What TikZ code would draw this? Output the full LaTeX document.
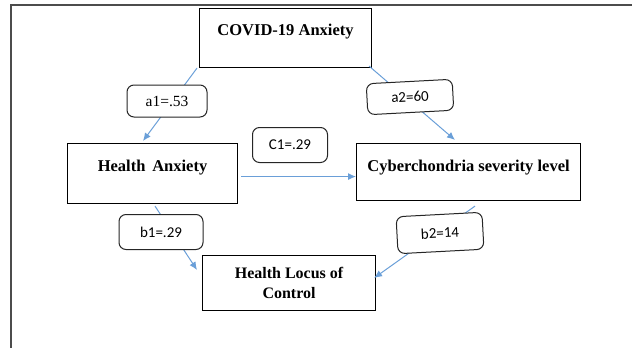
\documentclass[tikz,border=0pt]{standalone}
\usepackage{fontspec}
\setmainfont{Liberation Serif}
\newfontfamily\lblfont{Carlito}
\usepackage{tikz}
\usetikzlibrary{arrows.meta}
\definecolor{pathblue}{HTML}{6A9FD8}

\begin{document}
\begin{tikzpicture}[x=1pt, y=-1pt,
		varbox/.style={draw=black, line width=1.1pt, anchor=north west, inner sep=4pt,
			font=\fontsize{16.5}{19}\selectfont\bfseries},
		coef/.style={draw=black!85, line width=1pt, rounded corners=7pt, fill=white,
			inner sep=0pt, font=\lblfont\fontsize{15}{17}\selectfont},
		path/.style={line width=1pt, color=pathblue, -{Latex[length=8pt,width=7pt]}}]
		%%%%% START %%%%%
		\useasboundingbox (0, 0) rectangle (632, 348);
		
		\draw[line width=1.4pt, color=black!70] (11, 348) -- (11, 5) -- (632, 5);
		
		\node[varbox, minimum width=172pt, text height=23pt, text depth=28pt] (covid) at (199, 8) {COVID-19 Anxiety};
		\node[varbox, minimum width=170pt, text height=24pt, text depth=28pt] (hanx) at (67, 143) {Health\, Anxiety};
		\node[varbox, minimum width=224pt, text height=24pt, text depth=25pt] (cyber) at (356, 143) {Cyberchondria severity level};
		\node[varbox, minimum width=173pt, minimum height=55pt, align=center,
			font=\fontsize{16}{20}\selectfont\bfseries] (locus) at (202, 255) {Health Locus of\\Control};
		
		\draw[path] ([xshift=-2pt]covid.south west) -- ([xshift=76pt, yshift=2pt]hanx.north west);
		\draw[path] ([xshift=-3pt, yshift=2pt]covid.south east) -- ([xshift=99pt, yshift=3pt]cyber.north west);
		\draw[path] ([xshift=3pt, yshift=-3pt]hanx.east) -- ([yshift=-3pt]hanx.east -| cyber.west);
		\draw[path] ([xshift=88pt, yshift=-2pt]hanx.south west) -- ([xshift=-5pt, yshift=-15pt]locus.north west);
		\draw[path] ([xshift=119pt, yshift=-5pt]cyber.south west) -- ([xshift=-2pt, yshift=-23pt]locus.north east);
		
		\node[coef, minimum width=80pt, minimum height=32pt, font=\fontsize{15.5}{17}\selectfont] (a1) at (167, 101) {a1=.53};
		\node[coef, minimum width=86pt, minimum height=31pt, rotate=3] (a2) at (410, 97) {a2=60};
		\node[coef, minimum width=75pt, minimum height=35pt] (c1) at (290, 145) {C1=.29};
		\node[coef, minimum width=84pt, minimum height=35pt] (b1) at (161, 232) {b1=.29};
		\node[coef, minimum width=86pt, minimum height=37pt, rotate=3] (b2) at (440, 233) {b2=14};
		
		%%%%% END %%%%%
\end{tikzpicture}
\end{document}
